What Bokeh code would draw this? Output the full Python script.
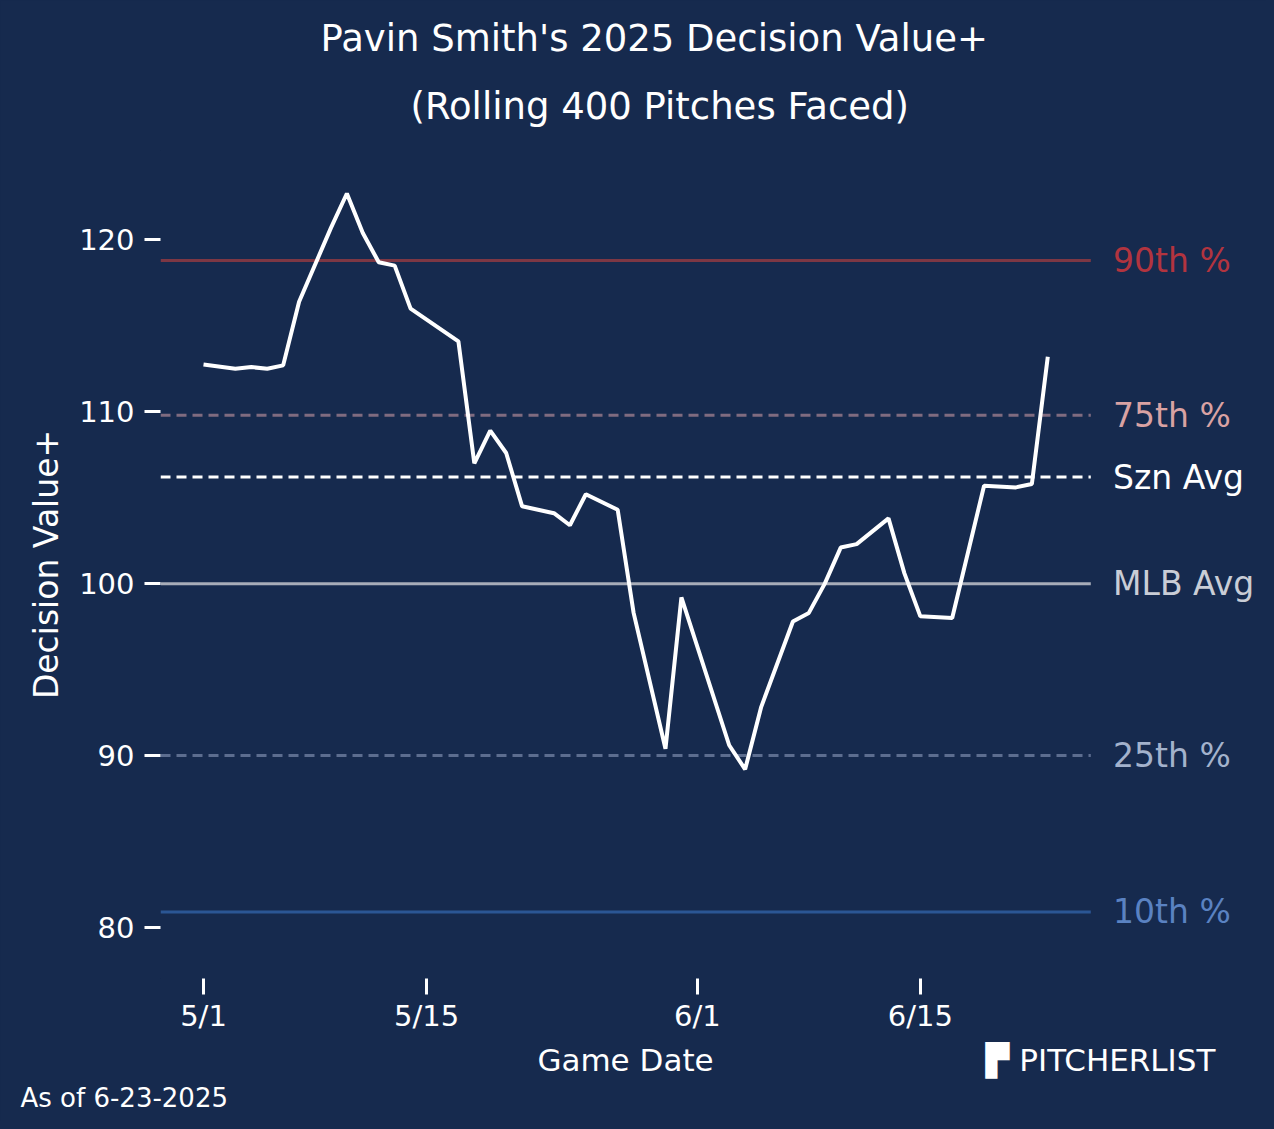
import pandas as pd
from bokeh.plotting import figure
from bokeh.models import FixedTicker, DatetimeTickFormatter, Range1d, Title, LinearAxis
from bokeh.core.properties import value
from bokeh.embed import file_html
from bokeh.resources import INLINE

dates = ["2025-05-01","2025-05-03","2025-05-04","2025-05-05","2025-05-06","2025-05-07","2025-05-09",
         "2025-05-10","2025-05-11","2025-05-12","2025-05-13","2025-05-14","2025-05-17","2025-05-18",
         "2025-05-19","2025-05-20","2025-05-21","2025-05-23","2025-05-24","2025-05-25","2025-05-27",
         "2025-05-28","2025-05-30","2025-05-31","2025-06-03","2025-06-04","2025-06-05","2025-06-07",
         "2025-06-08","2025-06-09","2025-06-10","2025-06-11","2025-06-13","2025-06-14","2025-06-15",
         "2025-06-17","2025-06-19","2025-06-21","2025-06-22","2025-06-23"]
dv = [112.75,112.5,112.6,112.5,112.7,116.4,120.7,122.7,120.4,118.7,118.5,116.0,114.1,107.0,108.9,
      107.6,104.5,104.1,103.4,105.2,104.3,98.3,90.4,99.2,90.6,89.2,92.8,97.8,98.3,100.0,102.1,102.3,
      103.8,100.6,98.1,98.0,105.7,105.6,105.8,113.2]
ref_names = ["90th %","75th %","Szn Avg","MLB Avg","25th %","10th %"]
ref_vals = [118.8,109.8,106.2,100.0,90.0,80.9]
ref_line_colors = ["#7d3744","#7f6b80","#ffffff","#a7acb8","#5c6d8f","#2b5694"]
ref_text_colors = ["#b2343f","#d9a2a3","#ffffff","#c9cdd6","#a3b2cc","#5a82c2"]
ref_dash = ["solid","10 6","10 6","solid","10 6","solid"]
tick_dates = ["2025-05-01","2025-05-15","2025-06-01","2025-06-15"]

BG = "#162a4e"
FONT = "DejaVu Sans"
x = pd.to_datetime(dates)
t0 = pd.Timestamp("2025-05-01")
DAY = 86400000.0
def d2ms(d):
    return (t0 - pd.Timestamp("1970-01-01")).total_seconds()*1000 + d*DAY
def px2d(px): return (px-203)/15.93

W, H = 1266, 1121
p = figure(width=W, height=H, x_axis_type="datetime", output_backend="svg",
           toolbar_location=None, background_fill_color=BG,
           border_fill_color=BG, min_border_left=160, min_border_right=0,
           min_border_top=150, min_border_bottom=H-978)
p.outline_line_color = None
p.x_range = Range1d(d2ms(-2.7), d2ms(px2d(W)))
p.y_range = Range1d(77.03, 125.2)
p.grid.visible = False

xe = d2ms(55.7)
for v, c, ds in zip(ref_vals, ref_line_colors, ref_dash):
    p.line([d2ms(-2.7), xe], [v, v], line_color=c, line_width=3, line_dash=ds)
for n, v, c in zip(ref_names, ref_vals, ref_text_colors):
    p.text([d2ms(57.1)], [v], text=[n], text_color=c, text_font_size="33px",
           text_baseline="middle", text_align="left", text_font=value(FONT))
p.line(x, dv, line_color="white", line_width=4)

p.xaxis.ticker = FixedTicker(ticks=[d2ms((pd.Timestamp(t)-t0).days) for t in tick_dates])
p.xaxis.formatter = DatetimeTickFormatter(days="%-m/%-d", months="%-m/%-d")
p.yaxis.ticker = FixedTicker(ticks=[80, 90, 100, 110, 120])
for ax in (p.xaxis, p.yaxis):
    ax.axis_line_color = None
    ax.major_tick_line_color = "white"
    ax.major_tick_line_width = 3
    ax.major_tick_out = 16
    ax.major_tick_in = 0
    ax.minor_tick_line_color = None
    ax.major_label_text_color = "white"
    ax.major_label_text_font_size = "29px"
    ax.major_label_text_font = FONT
    ax.axis_label_text_color = "white"
    ax.axis_label_text_font_size = "33px"
    ax.axis_label_text_font = FONT
    ax.axis_label_text_font_style = "normal"
p.xaxis.major_label_standoff = 4
p.yaxis.major_label_standoff = 10
p.yaxis.axis_label = "Decision Value+"
p.yaxis.axis_label_standoff = 10

# second bottom axis used only to carry the "Game Date" and logo texts
gd = d2ms(px2d(625)); lg = d2ms(px2d(1100))
ax2 = LinearAxis(ticker=FixedTicker(ticks=[gd, lg]),
                 major_label_overrides={gd: "Game Date", lg: "▛ PITCHERLIST"},
                 axis_line_color=None, major_tick_line_color=None, minor_tick_line_color=None,
                 major_label_text_color="white", major_label_text_font_size="31px",
                 major_label_text_font=FONT, major_label_standoff=0)
p.add_layout(ax2, "below")

p.add_layout(Title(text="As of 6-23-2025", align="left", offset=-140, text_font_size="26px",
                   text_color="white", text_font=FONT, text_font_style="normal", standoff=0), "below")

p.add_layout(Title(text="(Rolling 400 Pitches Faced)", align="left", offset=250,
                   text_font_size="37px", text_color="white", text_font=FONT,
                   text_font_style="normal", standoff=46), "above")
p.add_layout(Title(text="Pavin Smith's 2025 Decision Value+", align="left", offset=160,
                   text_font_size="37px", text_color="white", text_font=FONT,
                   text_font_style="normal", standoff=0), "above")

html = file_html(p, INLINE)
html = html.replace("<head>", "<head><style>html,body{background:%s;}</style>" % BG, 1)
open("out.html", "w").write(html)
